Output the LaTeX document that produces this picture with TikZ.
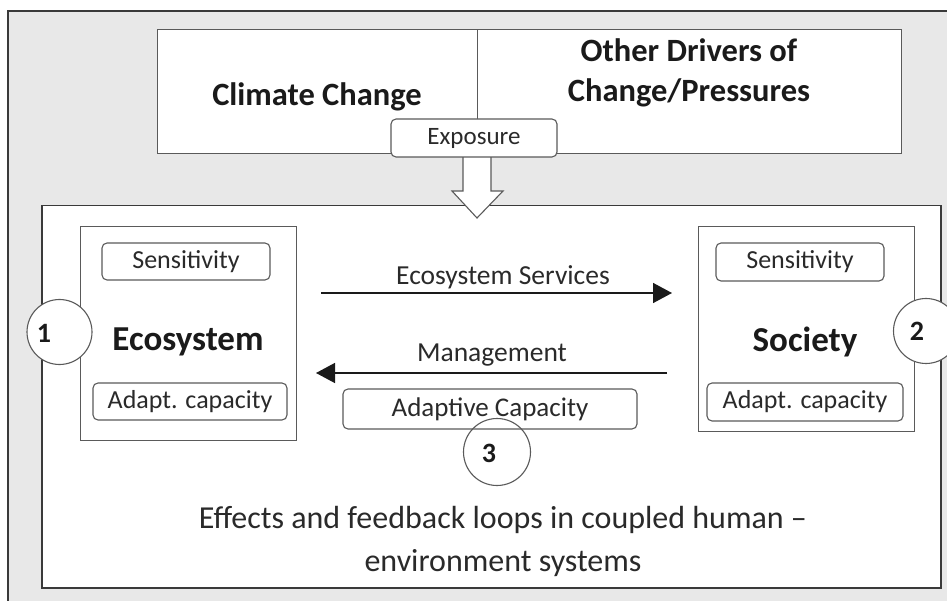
\documentclass[tikz,border=0pt]{standalone}
\usepackage{fontspec}
\setmainfont{Carlito}
\usetikzlibrary{arrows.meta}
\definecolor{bggray}{HTML}{E8E8E8}
\definecolor{frameline}{HTML}{3A3A3A}
\definecolor{boxline}{HTML}{5A5A5A}
\definecolor{txt}{HTML}{1A1A1A}
\definecolor{subtxt}{HTML}{2A2A2A}
\begin{document}
\begin{tikzpicture}[x=1pt,y=-1pt,
  box/.style={draw=boxline, line width=1.1pt, fill=white, inner sep=0pt},
  bigbox/.style={draw=frameline, line width=1.5pt, fill=white, inner sep=0pt},
  tag/.style={draw=boxline, line width=1.1pt, fill=white, rounded corners=5pt, inner sep=0pt, text=subtxt, font=\fontsize{26}{30}\selectfont},
  title/.style={text=txt, font=\fontsize{32.5}{40}\selectfont\bfseries, align=center},
  sysname/.style={text=txt, font=\fontsize{35}{40}\selectfont\bfseries},
  flowlabel/.style={text=subtxt, font=\fontsize{27.5}{32}\selectfont},
  num/.style={circle, draw=boxline, line width=1.1pt, fill=white, minimum size=65pt, inner sep=0pt},
  numtext/.style={text=txt, font=\fontsize{28}{32}\selectfont\bfseries},
  flow/.style={draw=txt, line width=1.5pt, -{Triangle[length=19pt,width=20pt]}},
]
\useasboundingbox (0,0) rectangle (947,601);
\clip (0,0) rectangle (947,601);
\fill[white] (0,0) rectangle (947,601);
\draw[fill=bggray, draw=frameline, line width=1.5pt] (8,11) rectangle (990,650);

% top drivers
\node[box, anchor=north west, minimum width=320pt, minimum height=124pt] (climate) at (157,29) {};
\node[box, anchor=north west, minimum width=424pt, minimum height=124pt] (drivers) at (477,29) {};
\node[title] (climatetext) at (317,97) {Climate Change};
\node[title] (driverstext) at (689,73) {Other Drivers of\\Change/Pressures};

% inner system box
\node[bigbox, anchor=north west, minimum width=899pt, minimum height=382pt] (system) at (41,205) {};

% exposure arrow
\draw[fill=white, draw=boxline, line width=1.1pt]
  (463,150) -- (463,191) -- (452,191) -- (477,218) -- (503,191) -- (491,191) -- (491,150);
\node[tag, minimum width=166pt, minimum height=38pt, font=\fontsize{25}{30}\selectfont] (exposure) at (474,138) {Exposure};

% ecosystem
\node[box, anchor=north west, minimum width=216pt, minimum height=214pt] (eco) at (80,226) {};
\node[tag, minimum width=168pt, minimum height=37pt] (ecosens) at (186,261.5) {Sensitivity};
\node[tag, minimum width=194pt, minimum height=37pt] (ecoadapt) at (190,401.5) {Adapt. capacity};
\node[sysname] (ecotext) at (188,342) {Ecosystem};
\node[num] (n1) at (59.5,332) {};
\node[numtext] (n1text) at (44,333) {1};

% society
\node[box, anchor=north west, minimum width=216pt, minimum height=205pt] (soc) at (698,226) {};
\node[tag, minimum width=168pt, minimum height=38pt] (socsens) at (800,262) {Sensitivity};
\node[tag, minimum width=196pt, minimum height=38pt] (socadapt) at (805,402) {Adapt. capacity};
\node[sysname] (soctext) at (805,342) {Society};
\node[num] (n2) at (926,331) {};
\node[numtext] (n2text) at (917,331) {2};

% flows
\coordinate (es1) at (321,293);
\coordinate (es2) at (672,293);
\draw[flow] (es1) -- (es2);
\node[flowlabel] (eslabel) at (503,277) {Ecosystem Services};
\coordinate (mg1) at (667,373);
\coordinate (mg2) at (316,373);
\draw[flow] (mg1) -- (mg2);
\node[flowlabel] (mglabel) at (492,355) {Management};
\node[tag, minimum width=294pt, minimum height=40pt, font=\fontsize{27}{32}\selectfont] (adaptcap) at (490,409) {Adaptive Capacity};
\node[num, fill=none, minimum size=67pt] (n3) at (497,452) {};
\node[numtext] (n3text) at (489,453) {3};

% caption
\node[text=subtxt, font=\fontsize{32}{43}\selectfont, align=center] (caption) at (503,541) {Effects and feedback loops in coupled human --\\environment systems};
\end{tikzpicture}
\end{document}
